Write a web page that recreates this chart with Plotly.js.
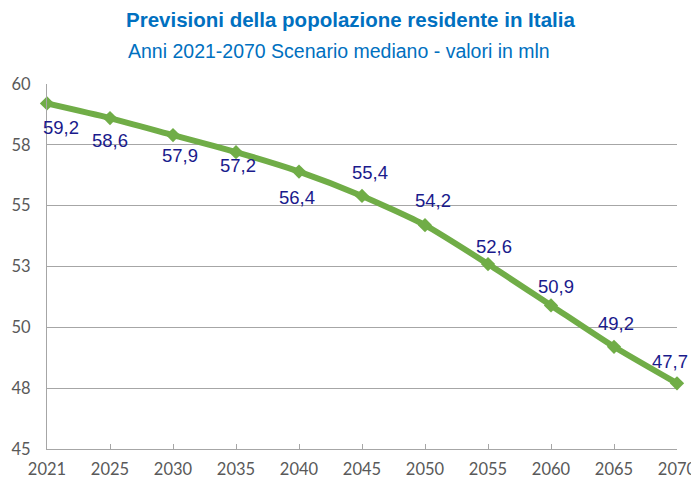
<!DOCTYPE html>
<html><head><meta charset="utf-8">
<script src="https://cdn.plot.ly/plotly-3.0.1.min.js"></script>
<style>html,body{margin:0;padding:0;background:#fff}#c{width:691px;height:486px}</style>
</head><body><div id="c"></div>
<script>
const years = ['2021','2025','2030','2035','2040','2045','2050','2055','2060','2065','2070'];
const popolazione = [59.2, 58.6, 57.9, 57.2, 56.4, 55.4, 54.2, 52.6, 50.9, 49.2, 47.7];
const yTickVals = [45, 47.5, 50, 52.5, 55, 57.5, 60];
const yTickText = ['45', '48', '50', '53', '55', '58', '60'];
// label offsets (px) for each data label
const labelDx = [14, 0, 7, 2, -2, 8, 8, 6, 5, 2, -7];
const labelDy = [24, 22, 20, 13, 26, -23, -25, -18, -19, -23, -22];

const fmt = v => v.toFixed(1).replace('.', ',');

const trace = {
  x: years, y: popolazione, type: 'scatter', mode: 'lines+markers',
  line: {color: '#70AD47', width: 6, shape: 'spline', smoothing: 0.6},
  marker: {symbol: 'diamond', size: 11, color: '#70AD47'},
  hoverinfo: 'skip', cliponaxis: false
};

const annotations = years.map((yr, i) => ({
  x: i, y: popolazione[i], xref: 'x', yref: 'y',
  text: fmt(popolazione[i]), showarrow: false,
  xshift: labelDx[i], yshift: -labelDy[i],
  font: {family: 'Liberation Sans, Arial, sans-serif', size: 18.5, color: '#1A1A8C'}
}));
annotations.push({
  xref: 'paper', yref: 'paper', x: 0.481, y: 1, yanchor: 'bottom', yshift: 51,
  text: '<b>Previsioni della popolazione residente in Italia</b>', showarrow: false,
  font: {family: 'Liberation Sans, Arial, sans-serif', size: 20.5, color: '#0070C0'}
});
annotations.push({
  xref: 'paper', yref: 'paper', x: 0.463, y: 1, yanchor: 'bottom', yshift: 20,
  text: 'Anni 2021-2070 Scenario mediano - valori in mln', showarrow: false,
  font: {family: 'Liberation Sans, Arial, sans-serif', size: 19.5, color: '#0070C0'}
});

const layout = {
  width: 691, height: 486,
  margin: {l: 47, r: 14, t: 84, b: 37},
  paper_bgcolor: '#fff', plot_bgcolor: '#fff',
  showlegend: false,
  xaxis: {
    type: 'category', range: [0, 10], showgrid: false,
    showline: true, linecolor: '#a6a6a6', linewidth: 1,
    ticks: 'inside', ticklen: 5, tickcolor: '#a6a6a6',
    ticklabelstandoff: 5,
    tickfont: {family: 'Lato, Open Sans, sans-serif', size: 16.5, color: '#595959'},
    fixedrange: true, zeroline: false
  },
  yaxis: {
    range: [45, 60], tickvals: yTickVals, ticktext: yTickText,
    showgrid: true, gridcolor: '#a6a6a6', gridwidth: 1,
    showline: true, linecolor: '#a6a6a6', linewidth: 1,
    ticks: '', ticklabelstandoff: 12,
    tickfont: {family: 'Lato, Open Sans, sans-serif', size: 16.5, color: '#595959'},
    zeroline: false, fixedrange: true
  },
  annotations: annotations
};

Plotly.newPlot('c', [trace], layout, {displayModeBar: false, staticPlot: true});
</script></body></html>
